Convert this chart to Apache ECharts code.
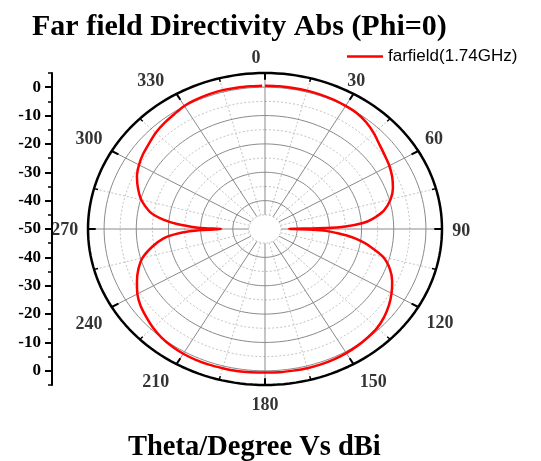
<!DOCTYPE html>
<html>
<head>
<meta charset="utf-8">
<script src="https://cdn.jsdelivr.net/npm/echarts@6/dist/echarts.min.js"></script>
<style>
  html, body { margin: 0; padding: 0; background: #ffffff; }
  #chart { width: 541px; height: 461px; }
</style>
</head>
<body>
<div id="chart"></div>
<script>
// Far-field directivity cut, Phi = 0 (theta in degrees, directivity in dBi)
const thetaDeg = [
  0, 5, 10, 15, 20, 25, 30, 35, 40, 45, 50, 55, 60, 65, 70, 75, 80,
  84, 86, 88, 89, 90, 91, 92, 94, 96, 98, 100,
  105, 110, 115, 120, 125, 130, 135, 140, 145, 150, 155, 160, 165, 170, 175, 180,
  185, 190, 195, 200, 205, 210, 215, 220, 225, 230, 235, 240, 245, 250, 255, 260,
  264, 266, 268, 269, 270, 271, 272, 274, 276, 278, 280,
  285, 290, 295, 300, 305, 310, 315, 320, 325, 330, 335, 340, 345, 350, 355, 359
];
const directivityDbi = [
  0.5, 0.5, 0.5, 0.5, 0.4, 0.3, 0.1, -0.2, -1.0, -2.2, -3.6, -4.6, -5.4, -6.4, -7.7, -9.6, -12.5,
  -16.5, -19.5, -25, -31, -42.5, -35, -31, -27, -23, -20, -17.5,
  -12.0, -8.7, -6.4, -4.6, -3.0, -1.7, -0.7, -0.2, 0.2, 0.5, 0.7, 0.8, 0.8, 0.7, 0.7, 0.6,
  0.7, 0.8, 0.8, 0.9, 0.9, 0.8, 0.5, 0.0, -0.8, -1.8, -2.8, -4.2, -6.1, -8.1, -10.6, -14.5,
  -18.3, -21.5, -26.5, -31, -36.4, -30, -27, -22, -18.2, -15.3, -13.4,
  -10.2, -8.0, -6.1, -4.8, -3.8, -3.0, -2.0, -1.3, -0.7, 0.1, 0.4, 0.6, 0.7, 0.6, 0.5, 0.5
];
const seriesName = 'farfield(1.74GHz)';

// Radial scale (dBi): centre value, outer edge, rings
const radialMin = -50;
const radialMax = 5;
const holeDb = -45;
const solidRingsDb = [-40, -30, -20, -10, 0];
const dottedRingsDb = [-45, -35, -25, -15, -5];

// Angular scale (degrees, clockwise from top)
const majorAnglesDeg = [0, 30, 60, 90, 120, 150, 180, 210, 240, 270, 300, 330];
const minorAnglesDeg = [15, 45, 75, 105, 135, 165, 195, 225, 255, 285, 315, 345];

const titleText = 'Far field Directivity Abs (Phi=0)';
const axisTitleText = 'Theta/Degree Vs dBi';

// ---- layout / styling ----
const serif = '"Liberation Serif", "Times New Roman", Times, serif';
// fine placement of the angle labels around the frame (px)
const angleLabelNudge = {
  0: [-9, 2], 30: [-7, 2], 60: [-1, -3], 90: [0, 2], 120: [5, 8], 150: [10, 4],
  180: [0, 3], 210: [-11, 4], 240: [-6, 9], 270: [-4, 1], 300: [-6, -3], 330: [-16, 2]
};
const span = radialMax - radialMin;           // radius of the outer ellipse in axis units
const RAD = Math.PI / 180;
const rhoOf = db => db - radialMin;
const toXY = (deg, rho) => [rho * Math.sin(deg * RAD), rho * Math.cos(deg * RAD)];

function ellipse(rho) {
  const pts = [];
  for (let a = 0; a <= 360; a += 2) pts.push(toXY(a, rho));
  return pts;
}
function radial(deg, rho0, rho1) {
  return [toXY(deg, rho0), toXY(deg, rho1)];
}
function path(data, color, width, type, z) {
  return {
    type: 'line', data, symbol: 'none', silent: true, animation: false,
    clip: false, z, lineStyle: { color, width, type }
  };
}

const series = [];
dottedRingsDb.forEach(db => series.push(path(ellipse(rhoOf(db)), '#c4c4c4', 1, [2, 2], 1)));
minorAnglesDeg.forEach(a => series.push(path(radial(a, rhoOf(holeDb), span), '#c4c4c4', 1, [2, 2], 1)));
solidRingsDb.forEach(db => series.push(path(ellipse(rhoOf(db)), '#8a8a8a', 1, 'solid', 2)));
majorAnglesDeg.forEach(a => series.push(path(radial(a, rhoOf(holeDb), span), '#8a8a8a', 1, 'solid', 2)));
// outer frame and its inward ticks
series.push(path(ellipse(span), '#000000', 2.5, 'solid', 4));
majorAnglesDeg.forEach(a => series.push(path(radial(a, span - 2.4, span), '#000000', 2, 'solid', 4)));
minorAnglesDeg.forEach(a => series.push(path(radial(a, span - 1.3, span), '#000000', 1.5, 'solid', 4)));

// angular tick labels
series.push({
  type: 'scatter', silent: true, animation: false, clip: false, z: 5,
  symbolSize: 1, itemStyle: { color: 'rgba(0,0,0,0)' },
  data: majorAnglesDeg.map(a => ({
    value: toXY(a, span + 6), name: String(a),
    label: { offset: angleLabelNudge[a] || [0, 0] }
  })),
  label: {
    show: true, position: 'inside', formatter: '{b}', color: '#000',
    fontFamily: serif, fontWeight: 'bold', fontSize: 18
  }
});

// the measured pattern
series.push({
  name: seriesName, type: 'line', animation: false, clip: false, z: 6,
  symbol: 'none', smooth: 0.3,
  lineStyle: { color: '#ff0000', width: 2.5 }, itemStyle: { color: '#ff0000' },
  data: thetaDeg.map((t, i) => toXY(t, rhoOf(directivityDbi[i])))
});

const tens = [];
for (let v = -span + 5; v <= span - 5; v += 10) tens.push(v);
const fives = [];
for (let v = -span; v <= span; v += 10) fives.push(v);

const option = {
  backgroundColor: '#ffffff',
  animation: false,
  title: [
    { text: titleText, left: 32, top: 12, padding: 0,
      textStyle: { fontFamily: serif, fontWeight: 'bold', fontSize: 30, color: '#000' } },
    { text: axisTitleText, left: 128, top: 433, padding: 0,
      textStyle: { fontFamily: serif, fontWeight: 'bold', fontSize: 28.5, color: '#000' } }
  ],
  legend: {
    data: [{ name: seriesName, icon: 'rect' }], left: 347, top: 48, padding: 0,
    itemWidth: 36, itemHeight: 2.5, itemGap: 5,
    textStyle: { fontFamily: '"Liberation Sans", Arial, sans-serif', fontSize: 17, color: '#000' }
  },
  grid: { left: 88, right: 99, top: 73, bottom: 76, containLabel: false },
  xAxis: { type: 'value', min: -span, max: span, show: false },
  yAxis: [
    {
      type: 'value', min: -span, max: span, position: 'left', offset: 36,
      axisLine: { show: true, onZero: false, lineStyle: { color: '#000', width: 2 } },
      axisTick: { show: true, length: 7, lineStyle: { color: '#000', width: 2 },
                  customValues: tens },
      axisLabel: { show: true, customValues: tens, margin: 11,
                   formatter: v => String(Math.abs(v) + radialMin),
                   fontFamily: serif, fontWeight: 'bold', fontSize: 17, color: '#000' },
      splitLine: { show: false }
    },
    {
      type: 'value', min: -span, max: span, position: 'left', offset: 36,
      axisLine: { show: false, onZero: false },
      axisTick: { show: true, length: 4, lineStyle: { color: '#000', width: 1.5 },
                  customValues: fives },
      axisLabel: { show: false },
      splitLine: { show: false }
    }
  ],
  series
};

const chart = echarts.init(document.getElementById('chart'));
chart.setOption(option);
</script>
</body>
</html>
